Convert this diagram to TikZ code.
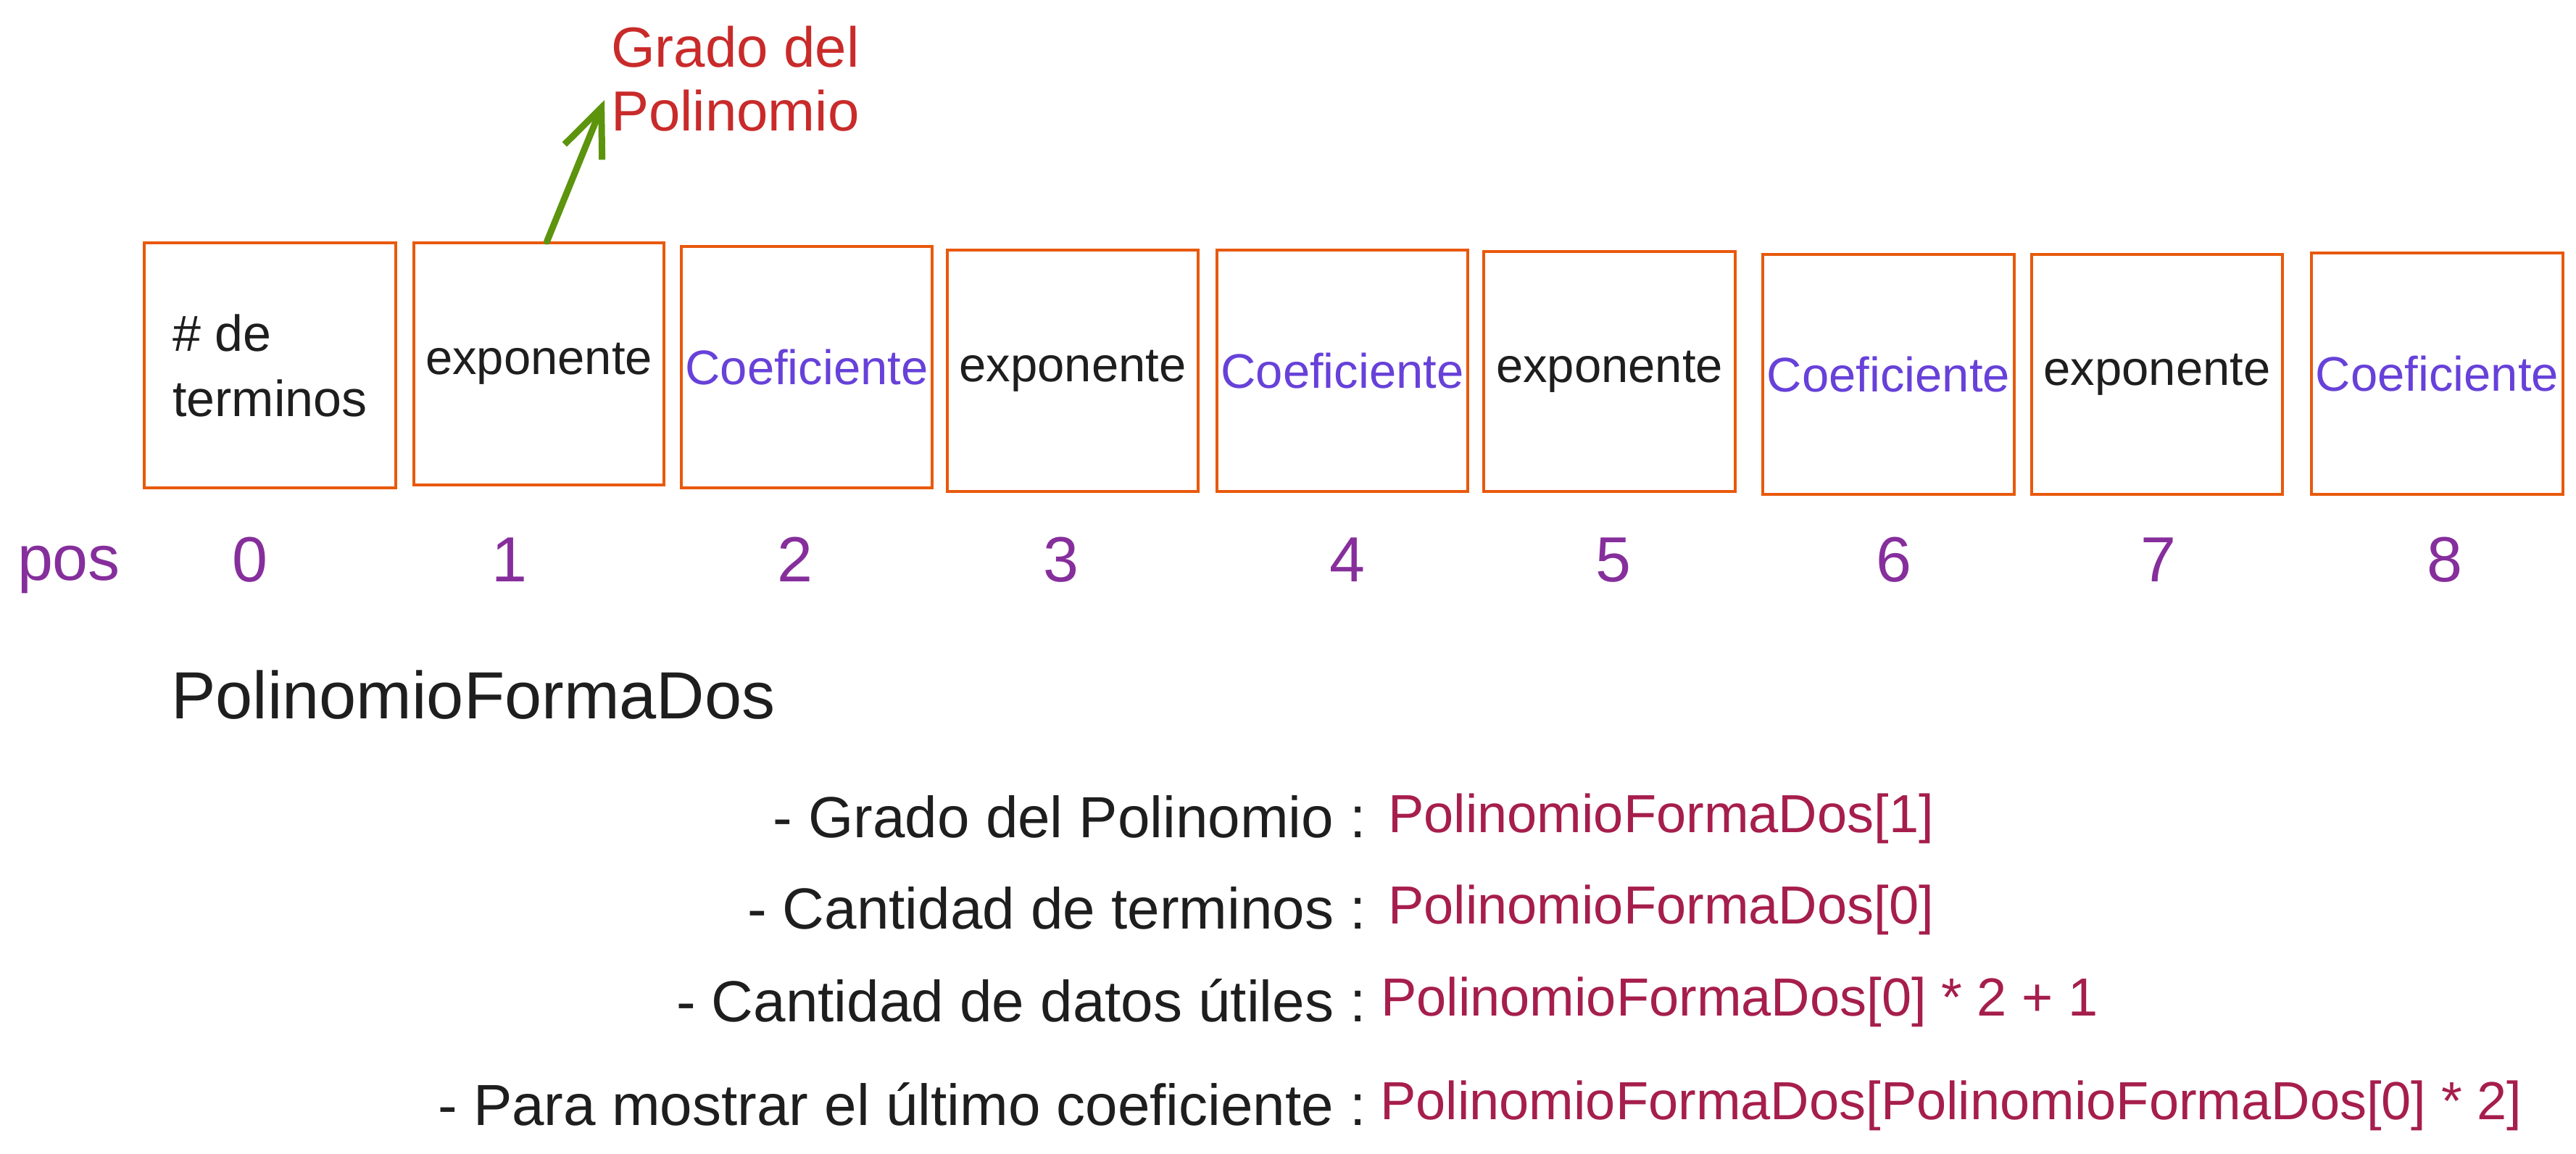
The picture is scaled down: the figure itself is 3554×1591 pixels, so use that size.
\documentclass[tikz,border=0pt]{standalone}
\usepackage{fontspec}
\setmainfont{Liberation Sans}
\usetikzlibrary{arrows.meta}
\definecolor{ink}{HTML}{1E1E1E}
\definecolor{boxorange}{HTML}{E8590C}
\definecolor{violet}{HTML}{6741D9}
\definecolor{grape}{HTML}{862E9C}
\definecolor{redlabel}{HTML}{C92A2A}
\definecolor{crimson}{HTML}{A61E4D}
\definecolor{arrowgreen}{HTML}{5C940D}
\tikzset{
  cell/.style={draw=boxorange, line width=3.5pt, inner sep=0pt, minimum width=346pt, minimum height=333pt, text=ink, font=\fontsize{67}{88}\selectfont, align=center},
  coef/.style={text=violet},
  posnum/.style={text=grape, font=\fontsize{88}{100}\selectfont, anchor=base},
  gnote/.style={text=redlabel, font=\fontsize{78}{88}\selectfont, align=left, anchor=north west, inner sep=0pt},
  ltext/.style={text=ink, font=\fontsize{80}{96}\selectfont, anchor=east, inner sep=0pt},
  rtext/.style={text=crimson, font=\fontsize{74}{96}\selectfont, anchor=west, inner sep=0pt},
  garrow/.style={draw=arrowgreen, line width=9pt, line cap=round, -{Straight Barb[length=66pt,width=56pt,line width=9pt]}}
}
\begin{document}
\begin{tikzpicture}[x=1pt,y=-1pt]
\useasboundingbox[fill=white] (0,0) rectangle (3554,1591);
% boxes
\node[cell, minimum width=347pt, minimum height=338pt, align=left, font=\fontsize{70}{90}\selectfont] (b0) at (372.5,504) {\# de\\terminos};
\node[cell, minimum width=345pt, minimum height=334pt] (b1) at (743.5,502) {exponente};
\node[cell, coef] (b2) at (1113,506.5) {Coeficiente};
\node[cell] (b3) at (1480,511.5) {exponente};
\node[cell, coef] (b4) at (1852,511.5) {Coeficiente};
\node[cell, minimum width=347pt, minimum height=331pt] (b5) at (2220.5,512.5) {exponente};
\node[cell, coef, minimum width=347pt, minimum height=331pt] (b6) at (2605.5,516.5) {Coeficiente};
\node[cell, minimum height=331pt] (b7) at (2976,516.5) {exponente};
\node[cell, coef, minimum width=347pt] (b8) at (3362.5,515.5) {Coeficiente};
% note and arrow
\node[gnote] (note) at (843,36) {Grado del\\Polinomio};
\coordinate (tip) at (834,138);
\draw[garrow] ([xshift=11pt]b1.north) -- (tip);
% positions
\node[posnum] (pos) at (95,800) {pos};
\node[posnum] (p0) at (345,802) {0};
\node[posnum] (p1) at (703,802) {1};
\node[posnum] (p2) at (1097,802) {2};
\node[posnum] (p3) at (1464,802) {3};
\node[posnum] (p4) at (1859,802) {4};
\node[posnum] (p5) at (2226,802) {5};
\node[posnum] (p6) at (2613,802) {6};
\node[posnum] (p7) at (2978,802) {7};
\node[posnum] (p8) at (3373,802) {8};
% title
\node[text=ink, font=\fontsize{92}{110}\selectfont, anchor=west, inner sep=0pt] (title) at (236,959) {PolinomioFormaDos};
% bottom lines
\node[ltext] (l1) at (1885,1127) {- Grado del Polinomio :};
\node[rtext] (r1) at (1915,1129) {PolinomioFormaDos[1]};
\node[ltext] (l2) at (1885,1253) {- Cantidad de terminos :};
\node[rtext] (r2) at (1915,1255) {PolinomioFormaDos[0]};
\node[ltext] (l3) at (1885,1380) {- Cantidad de datos útiles :};
\node[rtext] (r3) at (1905,1382) {PolinomioFormaDos[0] * 2 + 1};
\node[ltext] (l4) at (1885,1523) {- Para mostrar el último coeficiente :};
\node[rtext] (r4) at (1904,1525) {PolinomioFormaDos[PolinomioFormaDos[0] * 2]};
\end{tikzpicture}
\end{document}
